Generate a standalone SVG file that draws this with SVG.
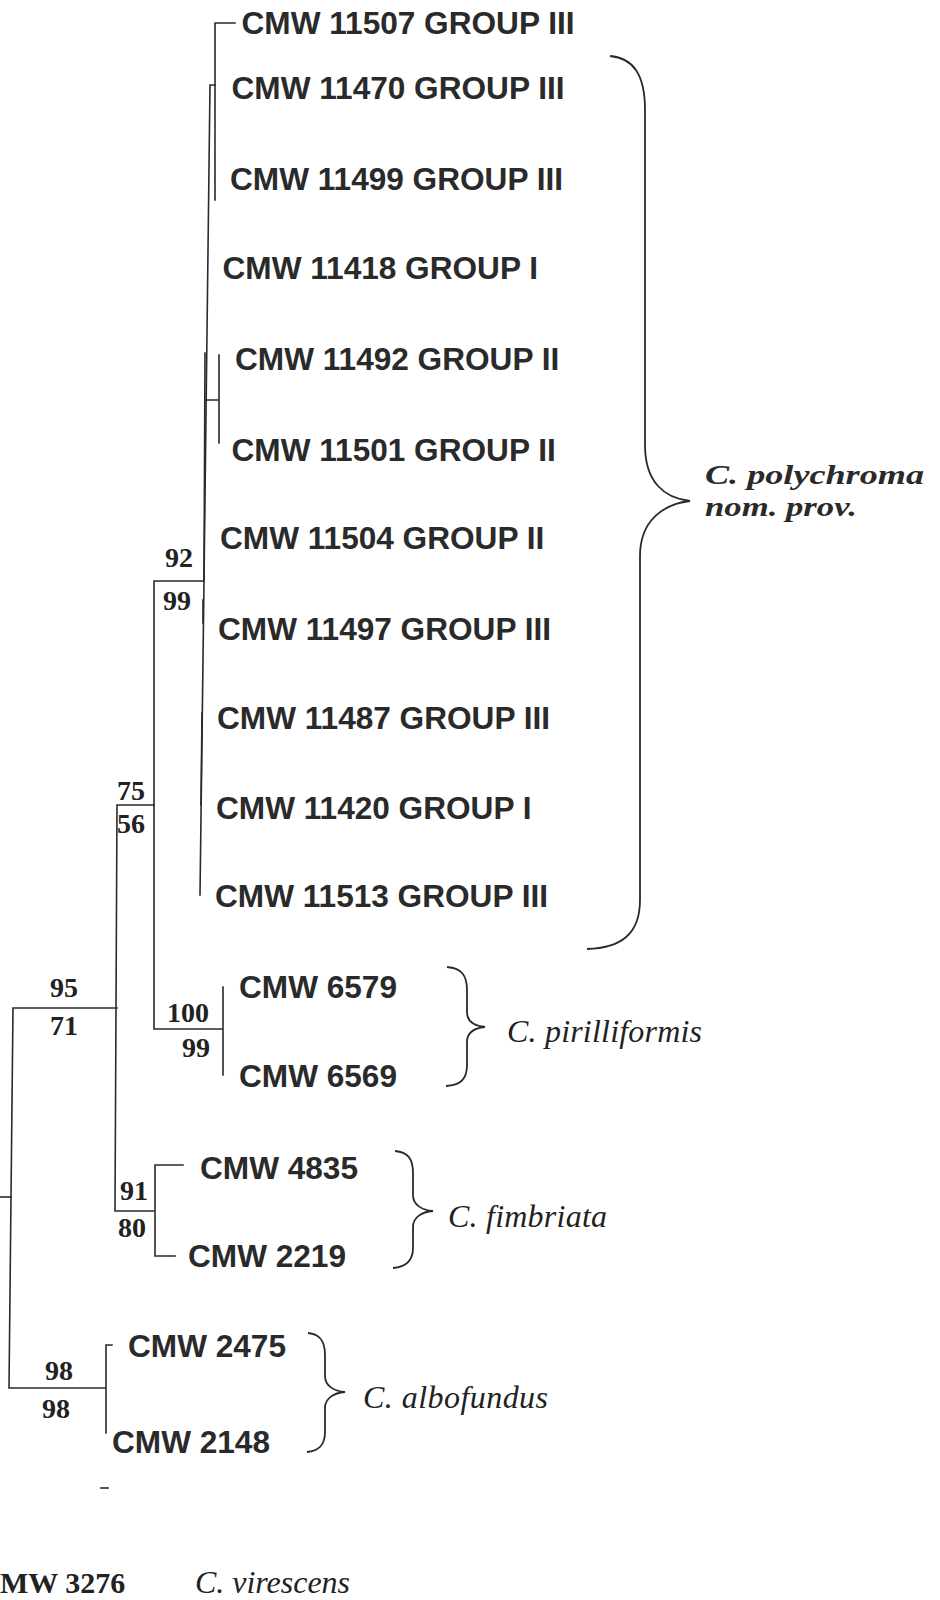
<svg xmlns="http://www.w3.org/2000/svg" width="940" height="1600" viewBox="0 0 940 1600">
<style>
.lbl{font-family:"Liberation Sans",Arial,sans-serif;font-weight:bold;font-size:31.6px;fill:#2a2a2a}
.sup{font-family:"Liberation Serif","Times New Roman",serif;font-weight:bold;font-size:28px;fill:#222}
.sp{font-family:"Liberation Serif","Times New Roman",serif;font-style:italic;font-size:32px;fill:#222}
.spb{font-family:"Liberation Serif","Times New Roman",serif;font-style:italic;font-weight:bold;font-size:27px;fill:#2a2a2a}
.og{font-family:"Liberation Serif","Times New Roman",serif;font-weight:bold;font-size:30px;fill:#222}
.e{stroke:#2a2a2a;stroke-width:1.6;fill:none;stroke-linecap:square}
.b{stroke:#2a2a2a;stroke-width:1.8;fill:none}
</style>
<rect width="940" height="1600" fill="#fff"/>
<g id="connectors">
<path class="e" d="M235 23H215V200"/>
<path class="e" d="M215 85H210L204 581L200 895"/>
<path class="e" d="M205 400H219M219 355V443"/>
<path class="e" stroke-width="2.6" d="M205 353L204 580M203 600L203 623M202 713L201 805"/>
<path class="e" d="M204 581H154V1029H223M223 987V1075"/>
<path class="e" d="M154 805H117L115 1211H155M155 1165H183M155 1165V1256H175"/>
<path class="e" d="M117 1008H13L9 1388H106M106 1345H112M106 1345V1433"/>
<path class="e" d="M0 1197H11"/>
<path class="e" d="M101 1488H108"/>
</g>
<g id="t11507"><text class="lbl" x="241.5" y="34">CMW 11507 GROUP III</text></g>
<g id="t11470"><text class="lbl" x="231.5" y="99">CMW 11470 GROUP III</text></g>
<g id="t11499"><text class="lbl" x="230" y="189.5">CMW 11499 GROUP III</text></g>
<g id="t11418"><text class="lbl" x="222.5" y="278.5">CMW 11418 GROUP I</text></g>
<g id="t11492"><text class="lbl" x="235" y="369.5">CMW 11492 GROUP II</text></g>
<g id="t11501"><text class="lbl" x="231.5" y="460.5">CMW 11501 GROUP II</text></g>
<g id="t11504"><text class="lbl" x="220" y="549">CMW 11504 GROUP II</text></g>
<g id="t11497"><text class="lbl" x="218" y="640">CMW 11497 GROUP III</text></g>
<g id="t11487"><text class="lbl" x="217" y="729">CMW 11487 GROUP III</text></g>
<g id="t11420"><text class="lbl" x="216" y="819">CMW 11420 GROUP I</text></g>
<g id="t11513"><text class="lbl" x="215" y="907">CMW 11513 GROUP III</text></g>
<g id="t6579"><text class="lbl" x="239" y="998">CMW 6579</text></g>
<g id="t6569"><text class="lbl" x="239" y="1087">CMW 6569</text></g>
<g id="t4835"><text class="lbl" x="200" y="1178.5">CMW 4835</text></g>
<g id="t2219"><text class="lbl" x="188" y="1267">CMW 2219</text></g>
<g id="t2475"><text class="lbl" x="128" y="1357">CMW 2475</text></g>
<g id="t2148"><text class="lbl" x="112" y="1453">CMW 2148</text></g>
<g id="t3276"><text class="og" x="0" y="1593">MW 3276</text></g>
<g id="n-polychroma">
<text class="sup" x="165" y="567">92</text>
<text class="sup" x="163" y="610">99</text>
</g>
<g id="n-clade75">
<text class="sup" x="117" y="800">75</text>
<text class="sup" x="117" y="833">56</text>
</g>
<g id="n-clade95">
<text class="sup" x="50" y="997">95</text>
<text class="sup" x="50" y="1035">71</text>
</g>
<g id="n-pirilliformis">
<text class="sup" x="167" y="1022">100</text>
<text class="sup" x="182" y="1057">99</text>
</g>
<g id="n-fimbriata">
<text class="sup" x="120" y="1200">91</text>
<text class="sup" x="118" y="1237">80</text>
</g>
<g id="n-albofundus">
<text class="sup" x="45" y="1380">98</text>
<text class="sup" x="42" y="1418">98</text>
</g>
<g id="g-polychroma">
<path class="b" d="M610 56C633 58 645 74 645 110L645 445C645 482 664 498 690 501C664 504 640 520 640 556L640 900C640 935 620 948 587 949"/>
<text class="spb" x="705" y="484" textLength="219" lengthAdjust="spacingAndGlyphs">C. polychroma</text>
<text class="spb" x="705" y="516" textLength="152" lengthAdjust="spacingAndGlyphs">nom. prov.</text>
</g>
<g id="g-pirilliformis">
<path class="b" d="M447 967C461 968 467 975 467 990L467 1012C467 1022 475 1026 485 1027C475 1028 467 1032 467 1042L467 1065C467 1080 460 1085 446 1086"/>
<text class="sp" x="507" y="1042" textLength="195">C. pirilliformis</text>
</g>
<g id="g-fimbriata">
<path class="b" d="M395 1151C408 1152 413 1159 413 1173L413 1195C413 1205 422 1210 433 1211C422 1212 413 1217 413 1227L413 1248C413 1262 405 1267 393 1268"/>
<text class="sp" x="448" y="1227" textLength="159">C. fimbriata</text>
</g>
<g id="g-albofundus">
<path class="b" d="M308 1333C320 1334 325 1341 325 1355L325 1376C325 1386 334 1391 345 1392C334 1393 325 1398 325 1408L325 1432C325 1446 318 1451 307 1452"/>
<text class="sp" x="363" y="1408" textLength="185">C. albofundus</text>
</g>
<g id="g-virescens">
<text class="sp" x="195" y="1593" textLength="155">C. virescens</text>
</g>
</svg>
